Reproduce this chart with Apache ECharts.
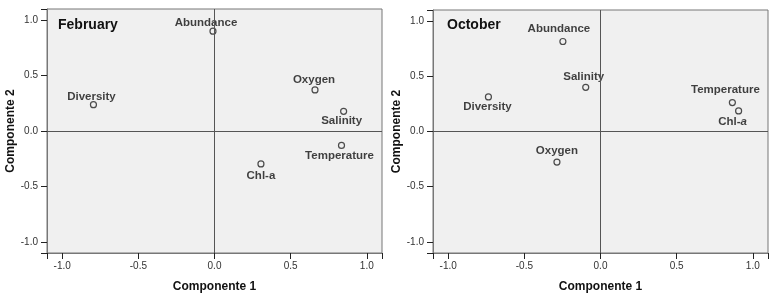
<!DOCTYPE html>
<html>
<head>
<meta charset="utf-8">
<script src="https://cdn.jsdelivr.net/npm/echarts@6/dist/echarts.min.js"></script>
<style>
  html,body{margin:0;padding:0;background:#fff;}
  #pca{width:779px;height:298px;}
</style>
</head>
<body>
<div id="pca"></div>
<script>
// loadings
var variables = ['Abundance', 'Oxygen', 'Diversity', 'Salinity', 'Temperature', 'Chl-a'];
var febC1 = [-0.01, 0.66, -0.795, 0.848, 0.834, 0.305];
var febC2 = [0.90, 0.37, 0.237, 0.177, -0.13, -0.297];
var octC1 = [-0.247, -0.286, -0.736, -0.097, 0.866, 0.907];
var octC2 = [0.815, -0.277, 0.313, 0.40, 0.262, 0.186];
var axisLimit = 1.1;
var panelTitles = ['February', 'October'];
var axisNames = ['Componente 1', 'Componente 2'];

// label offsets (dx, dy from marker centre)
var febLabelOffset = {
  'Abundance': [-7, -8], 'Oxygen': [-1, -10], 'Diversity': [-2, -8],
  'Salinity': [-2, 9], 'Temperature': [-2, 10], 'Chl-a': [0, 12]
};
var octLabelOffset = {
  'Abundance': [-4, -13], 'Oxygen': [0, -11], 'Diversity': [-1, 10],
  'Salinity': [-2, -10], 'Temperature': [-7, -13], 'Chl-a': [-6, 11]
};

var font = 'Liberation Sans, Arial, sans-serif';
var ink = '#111';

function buildPoints(xs, ys, offsets, italicA) {
  return variables.map(function (name, i) {
    var lbl = { offset: offsets[name] };
    if (italicA && name === 'Chl-a') {
      lbl.formatter = '{n|Chl-}{i|a}';
    }
    return { name: name, value: [xs[i], ys[i]], label: lbl };
  });
}

function axisFor(idx, dim, gap) {
  return {
    gridIndex: idx, type: 'value', min: -axisLimit, max: axisLimit,
    name: axisNames[dim], nameLocation: 'middle', nameGap: gap,
    nameTextStyle: { fontFamily: font, fontWeight: 'bold', fontSize: 12, color: ink },
    axisLine: { show: true, onZero: false, lineStyle: { color: '#777', width: 1 } },
    splitLine: { show: false },
    axisTick: { show: true, length: 6, lineStyle: { color: '#222', width: 1 } },
    axisLabel: {
      margin: dim === 0 ? 8 : 9,
      fontFamily: font, fontSize: 10, color: '#333',
      // the ±1.1 ends carry no label
      formatter: function (v) { return Math.abs(v) > 1.05 ? '' : v.toFixed(1); }
    }
  };
}

function scatterFor(idx, points) {
  return {
    type: 'scatter',
    xAxisIndex: idx, yAxisIndex: idx,
    symbol: 'circle', symbolSize: 6,
    itemStyle: { color: '#f0f0f0', borderColor: '#222', borderWidth: 1.2 },
    label: {
      show: true, position: 'inside',
      formatter: '{b}',
      fontFamily: font, fontWeight: 'bold', fontSize: 11.5, color: ink,
      rich: {
        n: { fontFamily: font, fontWeight: 'bold', fontSize: 11.5, color: ink },
        i: { fontFamily: font, fontWeight: 'bold', fontStyle: 'italic', fontSize: 11.5, color: ink }
      }
    },
    emphasis: { disabled: true },
    markLine: {
      silent: true, symbol: 'none', animation: false,
      label: { show: false },
      lineStyle: { color: '#555', width: 1, type: 'solid' },
      data: [{ xAxis: 0 }, { yAxis: 0 }]
    },
    z: 3,
    data: points
  };
}

var chart = echarts.init(document.getElementById('pca'));
chart.setOption({
  animation: false,
  backgroundColor: '#ffffff',
  title: [
    { text: panelTitles[0], left: 53, top: 13,
      textStyle: { fontFamily: font, fontWeight: 'bold', fontSize: 14, color: '#111' } },
    { text: panelTitles[1], left: 442, top: 13,
      textStyle: { fontFamily: font, fontWeight: 'bold', fontSize: 14, color: '#111' } }
  ],
  grid: [
    { left: 47, top: 9, width: 335, height: 245, show: true,
      backgroundColor: '#f0f0f0', borderColor: '#777', borderWidth: 1 },
    { left: 433, top: 10, width: 335, height: 246, show: true,
      backgroundColor: '#f0f0f0', borderColor: '#777', borderWidth: 1 }
  ],
  xAxis: [axisFor(0, 0, 28), axisFor(1, 0, 28)],
  yAxis: [axisFor(0, 1, 28), axisFor(1, 1, 26)],
  series: [
    scatterFor(0, buildPoints(febC1, febC2, febLabelOffset, false)),
    scatterFor(1, buildPoints(octC1, octC2, octLabelOffset, true))
  ]
});
</script>
</body>
</html>
